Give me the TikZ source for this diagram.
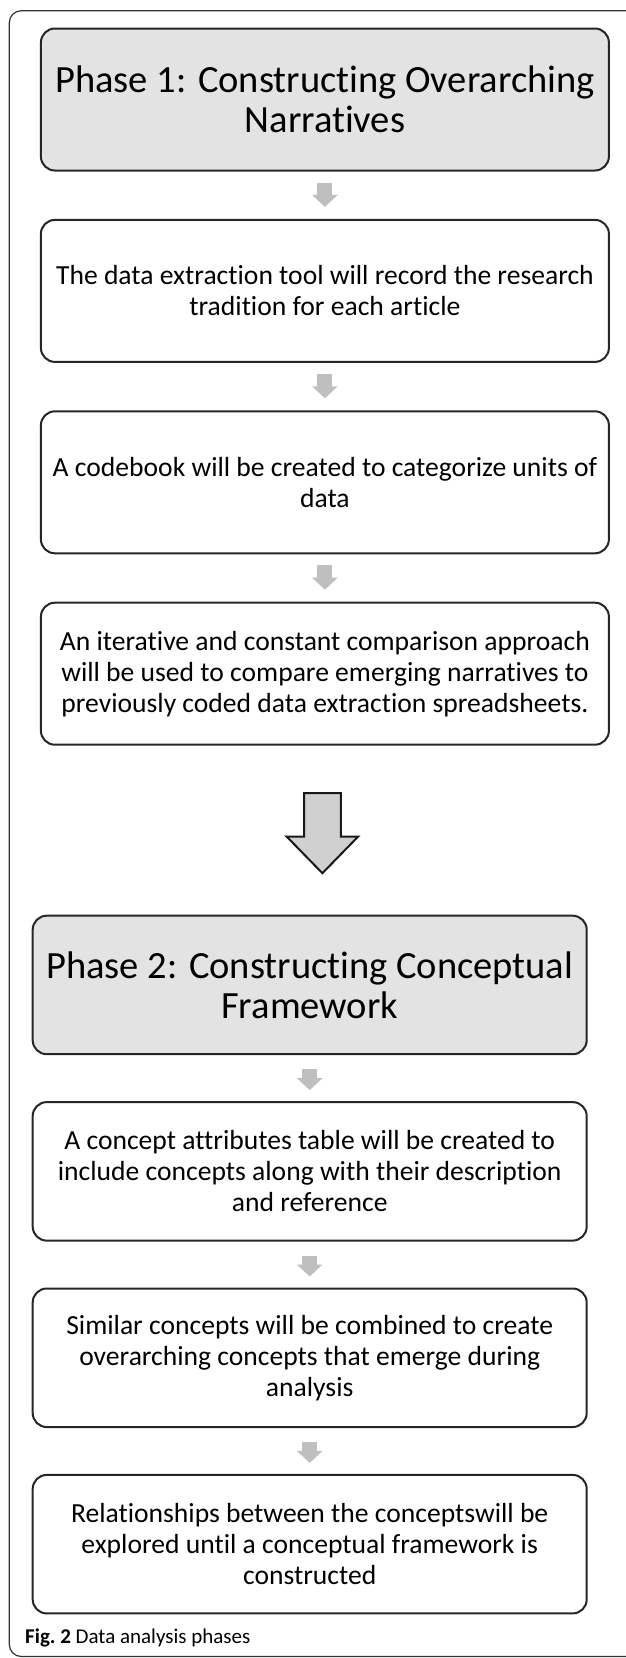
\documentclass[tikz,border=0pt]{standalone}
\usepackage{fontspec}
\setmainfont{Carlito}[Ligatures=NoCommon]
\usepackage{tikz}
\usetikzlibrary{arrows.meta, positioning, calc}
\tikzset{
  phase/.style={
    rectangle,
    rounded corners=14pt,
    draw=black!85,
    line width=2pt,
    fill=gray!22,
    minimum width=568pt,
    minimum height=142pt,
    align=center,
    font=\fontsize{38.5}{40}\selectfont
  },
  stepbox/.style={
    rectangle,
    rounded corners=14pt,
    draw=black!85,
    line width=2pt,
    fill=white,
    minimum width=568pt,
    minimum height=142pt,
    align=center,
    font=\fontsize{27.6}{31}\selectfont
  },
  smallarrow/.style={
    line width=15pt,
    gray!50,
    -{Triangle[width=25pt, length=12pt]}
  },
  bigarrow/.style={
    draw=black!90,
    line width=2pt,
    fill=gray!37,
    miter limit=10
  }
}

\begin{document}
\begin{tikzpicture}[x=1pt, y=1pt,
  narrow/.style={minimum width=554pt, minimum height=138.5pt}
]
  \useasboundingbox (0,0) rectangle (625,-1658);

  % OUTER FRAME
  \draw[line width=1.2pt, black!80, rounded corners=12pt] (9.3,-10.7) rectangle (645,-1656.5);

  % PHASE 1
  \node (P1) [phase] at (324.9,-99.5) {Phase 1: Constructing Overarching\\Narratives};
  \node (S1) [stepbox, below=47.4pt of P1] {The data extraction tool will record the research\\tradition for each article};
  \node (S2) [stepbox, below=47.4pt of S1] {A codebook will be created to categorize units of\\data};
  \node (S3) [stepbox, below=47.4pt of S2] {An iterative and constant comparison approach\\will be used to compare emerging narratives to\\previously coded data extraction spreadsheets.};

  \draw[smallarrow] ([yshift=-11pt]P1.south) -- ([yshift=12pt]S1.north);
  \draw[smallarrow] ([yshift=-11pt]S1.south) -- ([yshift=12pt]S2.north);
  \draw[smallarrow] ([yshift=-11pt]S2.south) -- ([yshift=12pt]S3.north);

  % BIG ARROW
  \coordinate (BA) at ($(S3.south)+(-2.4,-47.5)$);
  \draw[bigarrow] (BA) ++(-18.3,0) -- ++(36.7,0) -- ++(0,-43.3) -- ++(17.3,0)
    -- ++(-35.8,-36.7) -- ++(-35.8,36.7) -- ++(17.6,0) -- cycle;

  % PHASE 2
  \node (P2) [phase, narrow] at (309.7,-984.95) {Phase 2: Constructing Conceptual\\Framework};
  \node (T1) [stepbox, narrow, below=45.9pt of P2] {A concept attributes table will be created to\\include concepts along with their description\\and reference};
  \node (T2) [stepbox, narrow, below=45.9pt of T1] {Similar concepts will be combined to create\\overarching concepts that emerge during\\analysis};
  \node (T3) [stepbox, narrow, below=45.9pt of T2] {Relationships between the conceptswill be\\explored until a conceptual framework is\\constructed};

  \draw[smallarrow] ([yshift=-14pt]P2.south) -- ([yshift=11pt]T1.north);
  \draw[smallarrow] ([yshift=-14pt]T1.south) -- ([yshift=11pt]T2.north);
  \draw[smallarrow] ([yshift=-14pt]T2.south) -- ([yshift=11pt]T3.north);

  % CAPTION
  \node (cap) [anchor=base west, inner sep=0pt, font=\fontsize{21}{24}\selectfont] at (25,-1643) {\textbf{Fig.\ 2} Data analysis phases};
\end{tikzpicture}
\end{document}
